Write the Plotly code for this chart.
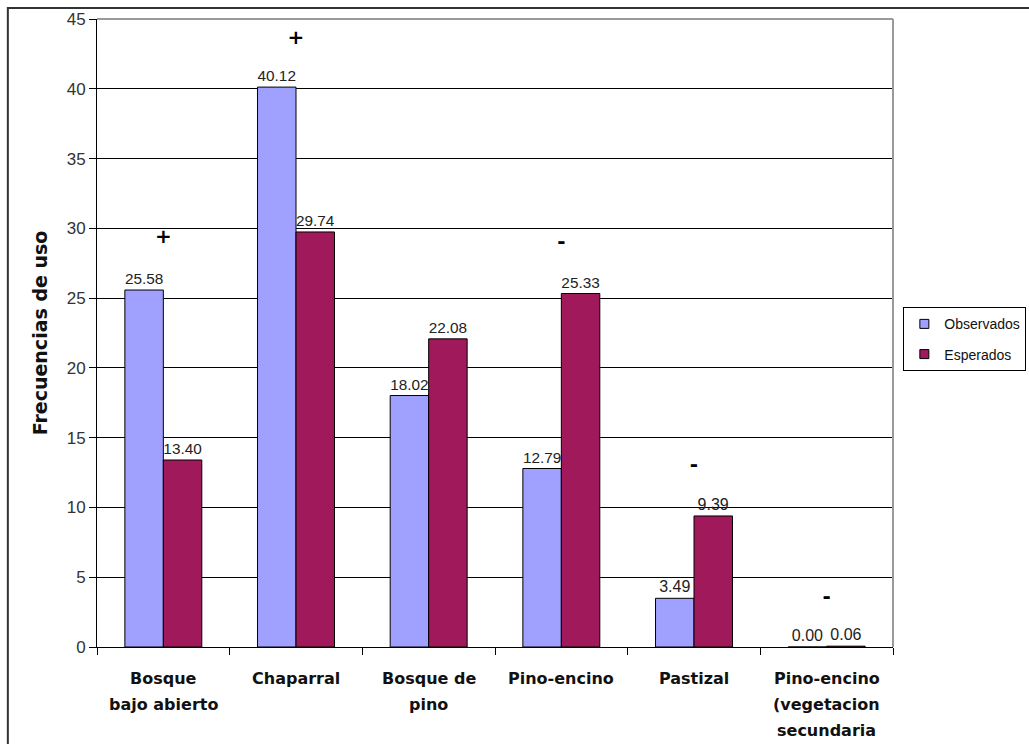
import plotly.graph_objects as go

categories = ["Bosque<br>bajo abierto", "Chaparral", "Bosque de<br>pino", "Pino-encino",
              "Pastizal", "Pino-encino<br>(vegetacion<br>secundaria"]
observados = [25.58, 40.12, 18.02, 12.79, 3.49, 0.00]
esperados = [13.40, 29.74, 22.08, 25.33, 9.39, 0.06]
signs = ["+", "+", "", "-", "-", "-"]
sign_y = [29.3, 43.6, None, 28.95, 12.97, 3.5]

font_family = "Liberation Sans, Arial, sans-serif"
bold_family = "DejaVu Sans, sans-serif"
c_obs = "#A0A0FF"
c_esp = "#A0195A"

fig = go.Figure()
fig.add_trace(go.Bar(
    x=categories, y=observados, name="Observados", showlegend=False,
    marker=dict(color=c_obs, line=dict(color="#000000", width=1)),
    text=[f"{v:.2f}" for v in observados], textposition="outside",
    textfont=dict(size=16, color="#222222", family=font_family),
    cliponaxis=False,
))
fig.add_trace(go.Bar(
    x=categories, y=esperados, name="Esperados", showlegend=False,
    marker=dict(color=c_esp, line=dict(color="#000000", width=1)),
    text=[f"{v:.2f}" for v in esperados], textposition="outside",
    textfont=dict(size=16, color="#222222", family=font_family),
    cliponaxis=False,
))
fig.add_trace(go.Scatter(
    x=[c for c, s in zip(categories, signs) if s],
    y=[y for y, s in zip(sign_y, signs) if s],
    text=[f"<b>{s}</b>" for s in signs if s],
    mode="text", showlegend=False, hoverinfo="skip",
    textfont=dict(size=20, color="#000000", family=bold_family),
    cliponaxis=False,
))
# legend entries (small square swatches like the original)
for name, col, grp in [("Observados", c_obs, "a"), ("Esperados", c_esp, "b")]:
    fig.add_trace(go.Scatter(
        x=[None], y=[None], mode="markers", name=name, legendgroup=grp,
        marker=dict(symbol="square", size=9, color=col, line=dict(color="#000000", width=1)),
        hoverinfo="skip",
    ))

# category labels, line by line, below the axis
annotations = []
for cat in categories:
    for i, line in enumerate(cat.split("<br>")):
        annotations.append(dict(
            x=cat, y=0, xref="x", yref="paper", text=f"<b>{line}</b>",
            showarrow=False, yanchor="middle", xanchor="center",
            yshift=-(31 + 26 * i),
            font=dict(size=16, color="#111111", family=bold_family),
        ))

fig.update_layout(
    width=1029, height=744,
    margin=dict(l=97, r=136, t=19, b=97, autoexpand=False),
    paper_bgcolor="#FFFFFF", plot_bgcolor="#FFFFFF",
    barmode="group", bargap=0.42, bargroupgap=0,
    font=dict(family=font_family, color="#222222"),
    legend=dict(
        x=1.013, y=0.49, xanchor="left", yanchor="middle",
        bordercolor="#000000", borderwidth=1, bgcolor="#FFFFFF",
        font=dict(size=14, color="#111111", family=font_family),
        tracegroupgap=9, itemwidth=30, traceorder="grouped",
    ),
    showlegend=True,
    annotations=annotations,
    shapes=[
        dict(type="rect", xref="paper", yref="paper", x0=-0.112, x1=1.3, y0=-0.3, y1=1.0175,
             line=dict(color="#333333", width=2), layer="below"),
        dict(type="line", xref="paper", yref="paper", x0=0, x1=1, y0=1, y1=1,
             line=dict(color="#9A9A9A", width=2), layer="above"),
        dict(type="line", xref="paper", yref="paper", x0=1, x1=1, y0=0, y1=1,
             line=dict(color="#9A9A9A", width=2), layer="above"),
    ],
)
fig.update_yaxes(
    range=[0, 45], dtick=5, showgrid=True, gridcolor="#000000", gridwidth=1,
    showline=True, linecolor="#000000", linewidth=1,
    ticks="outside", ticklen=7, tickcolor="#000000",
    tickfont=dict(size=17, color="#333333", family=font_family),
    zeroline=False,
    title=dict(text="<b>Frecuencias de uso</b>", standoff=14,
               font=dict(size=19, color="#111111", family=bold_family)),
)
fig.update_xaxes(
    showline=True, linecolor="#000000", linewidth=1,
    ticks="outside", ticklen=7, tickcolor="#000000", tickson="boundaries",
    showticklabels=False,
)

fig.write_html("out.html")
